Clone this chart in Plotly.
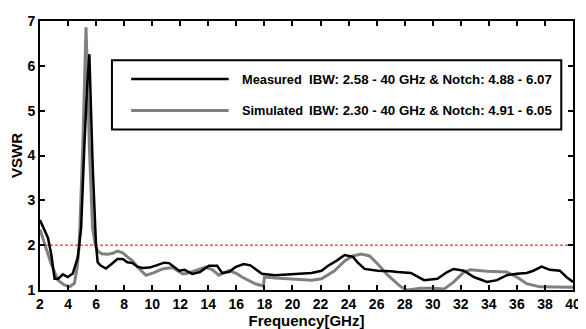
import plotly.graph_objects as go

# Measured (black)
meas_f = [2.0, 2.3, 2.57, 2.8, 3.04, 3.3, 3.63, 3.98, 4.34, 4.69, 4.93, 5.16, 5.35, 5.52, 5.75, 5.99,
          6.11, 6.3, 6.7, 7.1, 7.52, 7.9, 8.23, 8.6, 8.94, 9.32, 9.8, 10.3, 10.85, 11.2, 11.6, 11.92,
          12.3, 12.86, 13.4, 14.04, 14.63, 14.98, 15.46, 15.93, 16.52, 17.0, 17.35, 17.82, 18.76, 19.7,
          20.18, 21.36, 22.07, 22.54, 23.13, 23.72, 24.31, 24.66, 25.14, 26.08, 27.02, 27.5, 28.44, 28.9,
          29.38, 30.33, 31.03, 31.5, 32.22, 32.93, 33.87, 34.58, 35.29, 35.99, 36.7, 37.17, 37.76, 38.35,
          39.06, 39.53, 40.0]
meas_v = [2.56, 2.35, 2.16, 1.8, 1.25, 1.25, 1.35, 1.29, 1.37, 1.72, 2.37, 4.19, 5.5, 6.26, 3.82, 2.02,
          1.62, 1.55, 1.48, 1.58, 1.69, 1.69, 1.62, 1.6, 1.52, 1.49, 1.5, 1.55, 1.61, 1.6, 1.5, 1.43,
          1.45, 1.36, 1.4, 1.54, 1.54, 1.38, 1.4, 1.51, 1.58, 1.55, 1.47, 1.36, 1.33, 1.35,
          1.35, 1.38, 1.43, 1.54, 1.65, 1.78, 1.74, 1.61, 1.47, 1.43, 1.42, 1.4, 1.38, 1.3,
          1.22, 1.25, 1.4, 1.47, 1.43, 1.29, 1.18, 1.22, 1.33, 1.36, 1.38, 1.43, 1.52, 1.45,
          1.43, 1.29, 1.18]

# Simulated (gray)
sim_f = [2.0, 2.4, 2.8, 3.27, 3.7, 4.1, 4.45, 4.65, 4.8, 5.05, 5.2, 5.28, 5.4, 5.52, 5.75, 5.95, 6.11,
         6.4, 6.82, 7.2, 7.52, 7.9, 8.23, 8.6, 8.94, 9.55, 10.1, 10.73, 11.44, 12.15, 12.39, 13.33, 13.8,
         14.3, 14.75, 15.46, 16.0, 16.4, 17.35, 17.93, 18.0, 18.76, 19.7, 21.36, 22.07, 23.0, 23.72, 24.3,
         24.9, 25.5, 26.08, 26.79, 27.73, 28.2, 29.15, 30.1, 30.8, 31.5, 32.22, 32.69, 33.87, 35.29, 35.99,
         36.7, 37.64, 39.06, 40.0]
sim_v = [2.35, 1.95, 1.58, 1.22, 1.12, 1.07, 1.15, 1.5, 2.02, 4.19, 6.2, 6.86, 5.6, 4.19, 2.37, 2.0, 1.87,
         1.81, 1.8, 1.82, 1.87, 1.83, 1.74, 1.65, 1.52, 1.33, 1.38, 1.47, 1.5, 1.36, 1.36, 1.47, 1.51,
         1.45, 1.33, 1.43, 1.37, 1.29, 1.14, 1.09, 1.29, 1.27, 1.25, 1.22, 1.25, 1.43, 1.65, 1.76,
         1.8, 1.76, 1.58, 1.33, 1.07, 1.0, 1.04, 1.04, 1.02, 1.18, 1.4, 1.45, 1.42, 1.4, 1.29,
         1.14, 1.07, 1.06, 1.06]

ref_f = [2, 40]
ref_v = [2, 2]

x_ticks = list(range(2, 41, 2))
y_ticks = [1, 2, 3, 4, 5, 6, 7]

legend_names = ["Measured", "Simulated"]
legend_notes = ["IBW: 2.58 - 40 GHz & Notch: 4.88 - 6.07",
                "IBW: 2.30 - 40 GHz & Notch: 4.91 - 6.05"]

FONT = "Liberation Sans, Arial, sans-serif"

fig = go.Figure()
fig.add_trace(go.Scatter(x=ref_f, y=ref_v, mode="lines",
                         line=dict(color="#ff0000", width=1, dash="3px,2px"),
                         showlegend=False, hoverinfo="skip"))
fig.add_trace(go.Scatter(x=sim_f, y=sim_v, mode="lines", name=legend_names[1],
                         line=dict(color="#808080", width=3), showlegend=False))
fig.add_trace(go.Scatter(x=meas_f, y=meas_v, mode="lines", name=legend_names[0],
                         line=dict(color="#000000", width=2.5), showlegend=False))

axis_common = dict(showline=True, linecolor="black", linewidth=2, mirror="ticks",
                   ticks="inside", ticklen=5, tickwidth=1.5, tickcolor="black",
                   showgrid=False, zeroline=False, ticklabeloverflow="allow",
                   tickfont=dict(family=FONT, size=14, color="black", weight="bold"))

fig.update_xaxes(range=[2, 40], tickvals=x_ticks, ticktext=[str(t) for t in x_ticks],
                 title=dict(text="<b>Frequency[GHz]</b>", font=dict(family=FONT, size=15, color="black"),
                            standoff=0),
                 **axis_common)
fig.update_yaxes(range=[1, 7], tickvals=y_ticks, ticktext=[str(t) for t in y_ticks],
                 title=dict(text="<b>VSWR</b>", font=dict(family=FONT, size=15, color="black"),
                            standoff=1),
                 **axis_common)

# Manual legend box
bx0, bx1, by0, by1 = 0.135, 0.978, 0.597, 0.854
fig.add_shape(type="rect", xref="paper", yref="paper", x0=bx0, x1=bx1, y0=by0, y1=by1,
              line=dict(color="black", width=2), fillcolor="white", layer="above")
rows = [(0.784, "#000000", 2.5), (0.667, "#808080", 3)]
for i, (yy, col, w) in enumerate(rows):
    fig.add_shape(type="line", xref="paper", yref="paper", x0=0.171, x1=0.354, y0=yy, y1=yy,
                  line=dict(color=col, width=w), layer="above")
    fig.add_annotation(xref="paper", yref="paper", x=0.3756, y=yy, xanchor="left", yanchor="middle",
                       text="<b>" + legend_names[i] + "</b>", showarrow=False,
                       font=dict(family=FONT, size=12.8, color="black"))
    fig.add_annotation(xref="paper", yref="paper", x=0.5016, y=yy, xanchor="left", yanchor="middle",
                       text="<b>" + legend_notes[i] + "</b>", showarrow=False,
                       font=dict(family=FONT, size=13.3, color="black"))

# page body has an 8px margin, so the figure is sized to fit inside the window
fig.update_layout(width=578, height=321, margin=dict(l=32, r=9, t=5, b=39),
                  plot_bgcolor="white", paper_bgcolor="white", showlegend=False)

fig.write_html("out.html")
